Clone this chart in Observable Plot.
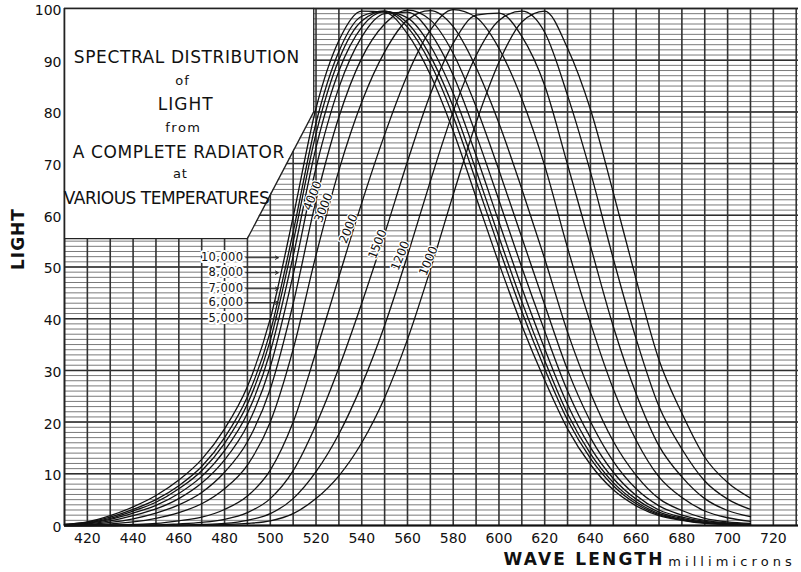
<!DOCTYPE html>
<html><head><meta charset="utf-8">
<script src="https://cdn.jsdelivr.net/npm/d3@7"></script>
<script src="https://cdn.jsdelivr.net/npm/@observablehq/plot@0.6"></script>
<style>
html,body{margin:0;padding:0;background:#fff;}
#chart svg{display:block;}
</style>
</head><body><div id="chart"></div>
<script>
// ---- data ----
const wavelengths = [410,420,430,440,450,460,470,480,490,500,510,520,530,540,550,560,570,580,590,600,610,620,630,640,650,660,670,680,690,700,710];
const temperatures = [10000,8000,7000,6000,5000,4000,3000,2000,1500,1200,1000];
const t10000 = [0.2,0.7,1.9,3.6,5.8,8.8,12.8,18.7,26.9,40.0,59.7,80.7,93.8,99.5,99.3,95.1,87.2,76.3,63.5,50.7,38.7,28.1,18.7,11.8,6.9,3.8,1.9,1.0,0.4,0.2,0.1];
const t8000  = [0.2,0.6,1.6,3.1,5.0,7.7,11.4,17.0,24.9,37.5,56.8,77.9,91.7,98.5,99.5,96.4,89.4,79.1,66.6,53.7,41.4,30.3,20.4,13.0,7.7,4.2,2.1,1.1,0.5,0.2,0.1];
const t7000  = [0.1,0.5,1.4,2.8,4.5,7.1,10.6,15.9,23.5,35.8,54.8,75.8,90.1,97.6,99.5,97.2,90.8,81.0,68.7,55.8,43.3,31.9,21.6,13.9,8.3,4.6,2.3,1.2,0.6,0.3,0.1];
const t6000  = [0.1,0.4,1.2,2.4,3.9,6.2,9.5,14.5,21.7,33.6,52.1,73.1,87.9,96.4,99.4,98.2,92.8,83.6,71.6,58.7,46.0,34.2,23.4,15.1,9.1,5.1,2.6,1.4,0.6,0.3,0.2];
const t5000  = [0.1,0.3,0.9,1.9,3.2,5.2,8.2,12.7,19.4,30.7,48.5,69.2,84.7,94.5,99.0,99.3,95.3,87.1,75.6,62.9,49.9,37.6,26.0,17.0,10.3,5.8,3.0,1.6,0.8,0.4,0.2];
const t4000  = [0.1,0.2,0.6,1.3,2.4,4.0,6.4,10.3,16.2,26.4,42.9,62.9,79.0,90.4,97.0,99.7,97.8,91.3,81.0,68.7,55.7,42.7,30.1,20.1,12.4,7.1,3.8,2.0,1.0,0.5,0.2];
const t3000  = [0.0,0.1,0.3,0.7,1.4,2.5,4.2,7.1,11.7,20.0,34.1,52.3,68.7,81.9,91.6,97.8,99.6,96.5,88.6,77.8,65.1,51.6,37.4,25.7,16.3,9.7,5.2,2.9,1.4,0.7,0.4];
const t2000  = [0.0,0.0,0.1,0.2,0.4,0.9,1.6,3.1,5.7,10.7,20.0,33.6,48.1,62.4,75.6,87.2,95.8,99.8,98.3,92.3,82.5,69.6,53.7,39.2,26.4,16.5,9.4,5.4,2.8,1.5,0.8];
const t1500  = [0.0,0.0,0.0,0.1,0.1,0.3,0.6,1.2,2.5,5.2,10.6,19.5,30.5,43.0,56.4,70.4,83.4,93.3,98.7,99.1,94.6,85.1,69.8,54.1,38.5,25.5,15.4,9.4,5.2,2.9,1.7];
const t1200  = [0.0,0.0,0.0,0.0,0.0,0.1,0.2,0.4,1.0,2.3,5.2,10.4,17.7,27.2,38.7,52.2,66.6,80.1,90.9,97.7,99.5,95.4,83.2,68.4,51.6,36.1,23.0,14.8,8.6,5.1,3.1];
const t1000  = [0.0,0.0,0.0,0.0,0.0,0.0,0.1,0.2,0.4,0.9,2.3,5.2,9.6,16.0,24.7,36.0,49.5,64.0,77.9,89.6,97.4,99.5,92.3,80.5,64.4,47.6,32.0,21.7,13.2,8.3,5.3];

const xTicks = [420,440,460,480,500,520,540,560,580,600,620,640,660,680,700,720];
const yTicks = [0,10,20,30,40,50,60,70,80,90,100];
const leaderLabels = ["10,000","8,000","7,000","6,000","5,000"];
const leaderValues = [51.8,48.9,45.8,43.1,40.0];
const slopeLabels = ["4000","3000","2000","1500","1200","1000"];
const titleLines = ["SPECTRAL DISTRIBUTION","of","LIGHT","from","A COMPLETE RADIATOR","at","VARIOUS TEMPERATURES"];

// ---- layout (annotation placement, in data units) ----
const titleLayout = [
  {x:463.5, y:90.5, size:17, ls:0.6},
  {x:461.6, y:86.0, size:13, ls:1},
  {x:463, y:81.4, size:17, ls:0.8},
  {x:462, y:77.0, size:13, ls:1.5},
  {x:460, y:72.1, size:17, ls:0.6},
  {x:460.7, y:68.1, size:13, ls:1},
  {x:454.6, y:63.2, size:17, ls:-0.5}
];
const slopeLayout = [
  {x:518.5, y:63.8},{x:523.3, y:61.5},{x:534.2, y:57.4},
  {x:546.9, y:54.4},{x:556.9, y:52.2},{x:569.2, y:51.2}
];
const box = [{x:410,y1:55.5,y2:100},{x:490,y1:55.5,y2:100},{x:519,y1:80,y2:100}];
const boxEdge = [{x:410,y:55.5},{x:490,y:55.5},{x:519,y:80},{x:519,y:100}];

const series = {10000:t10000,8000:t8000,7000:t7000,6000:t6000,5000:t5000,4000:t4000,3000:t3000,2000:t2000,1500:t1500,1200:t1200,1000:t1000};
const rows = temperatures.flatMap(t => wavelengths.map((w,i) => ({t, w, v: series[t][i]})));
const leaders = leaderLabels.map((text,i) => ({text, v: leaderValues[i]}));
const slopes = slopeLabels.map((text,i) => ({text, ...slopeLayout[i]}));
const titles = titleLines.map((text,i) => ({text, ...titleLayout[i]}));

const minor = d3.range(0,101,1);
const vlines = d3.range(410,731,10);

const chart = Plot.plot({
  width: 801, height: 572,
  marginTop: 8, marginBottom: 47, marginLeft: 64, marginRight: 3,
  x: {domain: [410, 731]},
  y: {domain: [0, 100]},
  style: {fontFamily: "'DejaVu Sans', sans-serif", background: "white", color: "#111"},
  marks: [
    Plot.ruleY(minor, {stroke: "#7a7a7a", strokeWidth: 1}),
    Plot.ruleY(yTicks, {stroke: "#2e2e2e", strokeWidth: 1.5}),
    Plot.ruleX(vlines, {stroke: "#333", strokeWidth: 1.6}),
    Plot.areaY(box, {x: "x", y1: "y1", y2: "y2", fill: "white"}),
    Plot.line(boxEdge, {x: "x", y: "y", stroke: "#222", strokeWidth: 1.3}),
    Plot.ruleX([410], {stroke: "#222", strokeWidth: 1.6}),
    Plot.ruleY([0], {stroke: "#111", strokeWidth: 2}),
    Plot.ruleY([100], {stroke: "#222", strokeWidth: 1.6}),
    Plot.line(rows, {x: "w", y: "v", z: "t", curve: "monotone-x", stroke: "#111", strokeWidth: 1.3}),
    Plot.arrow(leaders, {x1: 489.3, x2: 503.5, y1: "v", y2: "v", stroke: "#222", strokeWidth: 1, headLength: 5}),
    Plot.text(leaders, {x: 488.3, y: "v", text: "text", textAnchor: "end", fontSize: 11.5, fill: "#111",
      stroke: "white", strokeWidth: 4}),
    Plot.text(slopes, {x: "x", y: "y", text: "text", rotate: -68, fontSize: 12, fill: "#111",
      stroke: "white", strokeWidth: 2.5}),
    ...titles.map(d => Plot.text([d], {x: "x", y: "y", text: "text", fontSize: d.size, fill: "#111"})),
    Plot.axisX(xTicks, {tickSize: 0, tickPadding: 8, fontSize: 14, label: null}),
    Plot.axisY(yTicks, {tickSize: 0, tickPadding: 3, fontSize: 14, label: null, dy: 2}),
    Plot.text(["LIGHT"], {frameAnchor: "left", dx: -46, dy: 3, rotate: -90, fontSize: 17, fontWeight: "bold", fill: "#111"}),
    Plot.text(["WAVE LENGTH"], {x: 602, frameAnchor: "bottom", dy: 39, textAnchor: "start", fontSize: 17, fontWeight: "bold", fill: "#111"}),
    Plot.text(["millimicrons"], {x: 674, frameAnchor: "bottom", dy: 40, textAnchor: "start", fontSize: 13, fill: "#111"})
  ]
});
// letter spacing for the hand-lettered look
const spacing = new Map(titles.map(d => [d.text, d.ls]));
spacing.set("WAVE LENGTH", 2.2);
spacing.set("millimicrons", 4.1);
spacing.set("LIGHT", 1);
leaderLabels.forEach(t => spacing.set(t, 0.4));
d3.select(chart).selectAll("text").each(function() {
  const t = this.textContent;
  if (spacing.has(t)) this.setAttribute("letter-spacing", spacing.get(t));
});
document.getElementById("chart").appendChild(chart);
</script>
</body></html>
